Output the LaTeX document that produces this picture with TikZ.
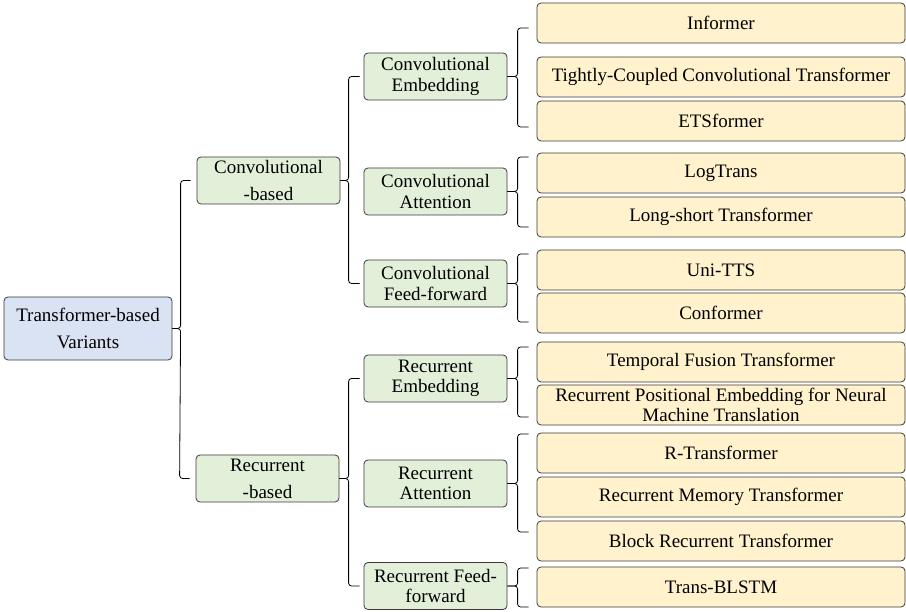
\documentclass[tikz,border=0pt]{standalone}
\usepackage{fontspec}
\setmainfont{Liberation Serif}
\definecolor{rootc}{HTML}{DAE3F3}
\definecolor{greenc}{HTML}{E2F0D9}
\definecolor{yellc}{HTML}{FFF2CC}
\definecolor{edgec}{HTML}{3A3A3A}
\begin{document}
\begin{tikzpicture}[x=1pt,y=-1pt,
  box/.style={draw=edgec, line width=0.8pt, rounded corners=4pt, align=center, inner sep=0pt,
    font=\fontsize{19}{20.5}\selectfont},
  rootbox/.style={box, fill=rootc, minimum width=168pt, minimum height=63pt, font=\fontsize{19}{27}\selectfont},
  lvone/.style={box, fill=greenc, minimum width=143pt, minimum height=47pt, font=\fontsize{19}{27}\selectfont},
  lvtwo/.style={box, fill=greenc, minimum width=143pt, minimum height=47pt},
  leaf/.style={box, fill=yellc, minimum width=368pt, minimum height=40pt},
  conn/.style={draw=black, line width=0.8pt, rounded corners=3pt}
]
\useasboundingbox (0,0) rectangle (906,612);

% root and level 1
\node[rootbox] (root) at (88,328.5) {Transformer-based\\Variants};
\node[lvone] (cb) at (268.5,180.5) {Convolutional\\-based};
\node[lvone] (rb) at (267.5,478.5) {Recurrent\\-based};

% level 2
\node[lvtwo] (ce) at (435.5,76.5) {Convolutional\\Embedding};
\node[lvtwo] (ca) at (435.5,191.5) {Convolutional\\Attention};
\node[lvtwo] (cf) at (435.5,283.5) {Convolutional\\Feed-forward};
\node[lvtwo] (re) at (435.5,378.5) {Recurrent\\Embedding};
\node[lvtwo] (ra) at (435.5,483.5) {Recurrent\\Attention};
\node[lvtwo] (rf) at (435.5,586) {Recurrent Feed-\\forward};

% leaves
\node[leaf] (l1) at (721,23) {Informer};
\node[leaf] (l2) at (721,77) {Tightly-Coupled Convolutional Transformer};
\node[leaf] (l3) at (721,121) {ETSformer};
\node[leaf] (l4) at (721,173) {LogTrans};
\node[leaf] (l5) at (721,217) {Long-short Transformer};
\node[leaf] (l6) at (721,270) {Uni-TTS};
\node[leaf] (l7) at (721,313) {Conformer};
\node[leaf] (l8) at (721,362) {Temporal Fusion Transformer};
\node[leaf] (l9) at (721,405) {Recurrent Positional Embedding for Neural\\Machine Translation};
\node[leaf] (l10) at (721,453) {R-Transformer};
\node[leaf] (l11) at (721,497) {Recurrent Memory Transformer};
\node[leaf] (l12) at (721,541) {Block Recurrent Transformer};
\node[leaf] (l13) at (721,587) {Trans-BLSTM};

% brackets level 1
\coordinate (b1) at ([xshift=-16pt]cb.west);
\draw[conn] ([xshift=-6pt]cb.west) -- (b1) -- (b1 |- root.east) -- (root.east);
\draw[conn] ([xshift=-6pt]rb.west) -- ([xshift=-16pt]rb.west) -- (b1 |- root.east) -- (root.east);

% brackets level 2
\coordinate (b2) at ([xshift=-15pt]ce.west);
\draw[conn] ([xshift=-4pt]ce.west) -- (b2) -- (b2 |- cb.east) -- (cb.east);
\draw[conn] ([xshift=-4pt]cf.west) -- ([xshift=-15pt]cf.west) -- (b2 |- cb.east) -- (cb.east);
\coordinate (b3) at ([xshift=-15pt]re.west);
\draw[conn] ([xshift=-4pt]re.west) -- (b3) -- (b3 |- rb.east) -- (rb.east);
\draw[conn] ([xshift=-4pt]rf.west) -- ([xshift=-15pt]rf.west) -- (b3 |- rb.east) -- (rb.east);

% brackets level 3
\coordinate (c1) at ([xshift=-19pt,yshift=-5pt]l1.west);
\draw[conn] ([xshift=-8pt,yshift=-5pt]l1.west) -- (c1) -- (c1 |- ce.east) -- (ce.east);
\draw[conn] ([xshift=-8pt,yshift=-6pt]l3.west) -- ([xshift=-19pt,yshift=-6pt]l3.west) -- (c1 |- ce.east) -- (ce.east);

\coordinate (c2) at ([xshift=-19pt,yshift=16pt]l4.west);
\draw[conn] ([xshift=-8pt,yshift=16pt]l4.west) -- (c2) -- (c2 |- ca.east) -- (ca.east);
\draw[conn] ([xshift=-8pt,yshift=-10pt]l5.west) -- ([xshift=-19pt,yshift=-10pt]l5.west) -- (c2 |- ca.east) -- (ca.east);

\coordinate (c3) at ([xshift=-19pt,yshift=16pt]l6.west);
\draw[conn] ([xshift=-8pt,yshift=16pt]l6.west) -- (c3) -- (c3 |- cf.east) -- (cf.east);
\draw[conn] ([xshift=-8pt,yshift=-9pt]l7.west) -- ([xshift=-19pt,yshift=-9pt]l7.west) -- (c3 |- cf.east) -- (cf.east);

\coordinate (c4) at ([xshift=-19pt,yshift=15pt]l8.west);
\draw[conn] ([xshift=-8pt,yshift=15pt]l8.west) -- (c4) -- (c4 |- re.east) -- (re.east);
\draw[conn] ([xshift=-8pt,yshift=-12pt]l9.west) -- ([xshift=-19pt,yshift=-12pt]l9.west) -- (c4 |- re.east) -- (re.east);

\coordinate (c5) at ([xshift=-19pt,yshift=19pt]l10.west);
\draw[conn] ([xshift=-8pt,yshift=19pt]l10.west) -- (c5) -- (c5 |- ra.east) -- (ra.east);
\draw[conn] ([xshift=-8pt,yshift=9pt]l12.west) -- ([xshift=-19pt,yshift=9pt]l12.west) -- (c5 |- ra.east) -- (ra.east);

\coordinate (c6) at ([xshift=-19pt,yshift=19pt]l13.west);
\draw[conn] ([xshift=-8pt,yshift=19pt]l13.west) -- (c6) -- (c6 |- rf.east) -- (rf.east);
\draw[conn] ([xshift=-8pt,yshift=-20pt]l13.west) -- ([xshift=-19pt,yshift=-20pt]l13.west) -- (c6 |- rf.east) -- (rf.east);
\end{tikzpicture}
\end{document}
